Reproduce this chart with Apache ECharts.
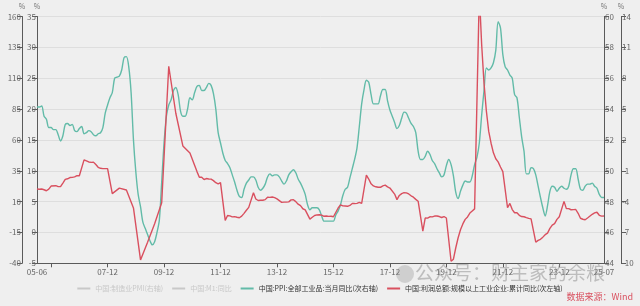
<!DOCTYPE html>
<html><head><meta charset="utf-8">
<script src="https://cdn.jsdelivr.net/npm/echarts@6/dist/echarts.min.js"></script>
<style>html,body{margin:0;padding:0;background:#efefef}#c{width:640px;height:306px}</style>
</head><body><div id="c"></div>
<script>
// months 2005-06 .. 2025-07
var startYear = 2005, startMonth = 6, nMonths = 242;
var categories = [];
for (var i = 0; i < nMonths; i++) {
  var m = startMonth - 1 + i, y = startYear + Math.floor(m / 12), mm = m % 12 + 1;
  categories.push(String(y).slice(2) + '-' + (mm < 10 ? '0' : '') + mm);
}
// 中国:PPI:全部工业品:当月同比 (%)
var ppi = [
 5.2,5.2,5.3,4.3,4.0,3.2,3.2,
 3.0,3.0,2.5,1.9,2.4,3.5,3.6,3.4,3.5,2.9,2.8,3.1,
 3.3,2.6,2.7,2.9,2.8,2.5,2.4,2.6,2.7,3.2,4.6,5.4,
 6.1,6.6,8.0,8.1,8.2,8.8,10.0,10.1,9.1,6.6,2.0,-1.1,
 -3.3,-4.5,-6.0,-6.6,-7.2,-7.8,-8.2,-7.9,-7.0,-5.8,-2.1,1.7,
 4.3,5.4,5.9,6.8,7.1,6.4,4.8,4.3,4.3,5.0,6.1,5.9,
 6.6,7.2,7.3,6.8,6.8,7.1,7.5,7.3,6.5,5.0,2.7,1.7,
 0.7,0.0,-0.3,-0.7,-1.4,-2.1,-2.9,-3.5,-3.6,-2.8,-2.2,-1.9,
 -1.6,-1.6,-1.9,-2.6,-2.9,-2.7,-2.3,-1.6,-1.3,-1.5,-1.4,-1.4,
 -1.6,-2.0,-2.3,-2.0,-1.4,-1.1,-0.9,-1.2,-1.8,-2.2,-2.7,-3.3,
 -4.3,-4.8,-4.6,-4.6,-4.6,-4.8,-5.4,-5.9,-5.9,-5.9,-5.9,-5.9,
 -5.3,-4.9,-4.3,-3.4,-2.8,-2.6,-1.7,-0.8,0.1,1.2,3.3,5.5,
 6.9,7.8,7.6,6.4,5.5,5.5,5.5,6.3,6.9,6.9,5.8,4.9,
 4.3,3.7,3.1,3.4,4.1,4.7,4.6,4.1,3.6,3.3,2.7,0.9,
 0.1,0.1,0.4,0.9,0.6,0.0,-0.3,-0.8,-1.2,-1.6,-1.4,-0.5,
 0.1,-0.4,-1.5,-3.1,-3.7,-3.0,-2.4,-2.0,-2.1,-2.1,-1.5,-0.4,
 0.3,1.7,4.4,6.8,9.0,8.8,9.0,9.5,10.7,13.5,12.9,10.3,
 9.1,8.8,8.3,8.0,6.4,6.1,4.2,2.3,0.9,-1.3,-1.3,-0.7,
 -0.8,-1.4,-2.5,-3.6,-4.6,-5.4,-4.4,-3.0,-2.5,-2.6,-3.0,-2.7,
 -2.5,-2.7,-2.8,-2.5,-1.4,-0.8,-0.8,-1.8,-2.8,-2.9,-2.5,-2.3,
 -2.3,-2.2,-2.5,-2.7,-3.3,-3.6,-3.6
];
// 中国:利润总额:规模以上工业企业:累计同比 (%)
var profit = [
 20.2,20.0,20.2,19.6,18.8,20.1,22.6,
 null,22.9,22.1,22.1,25.0,28.0,28.5,29.5,29.6,30.0,31.0,31.0,
 null,43.8,43.0,42.1,41.8,42.0,40.0,37.8,37.0,36.7,36.7,36.7,
 null,16.5,null,null,20.9,null,null,19.4,null,null,4.9,null,
 null,-37.3,null,null,-22.9,null,null,-8.0,null,null,9.0,null,
 null,119.7,null,null,81.6,null,null,55.1,null,null,49.4,null,
 null,34.3,29.7,29.7,27.9,28.7,28.3,28.2,27.0,25.3,24.4,25.4,
 null,-5.2,-1.3,-1.6,-2.4,-2.2,-2.7,-3.1,-1.8,0.5,3.0,5.3,
 null,17.2,12.1,10.9,11.1,11.1,11.6,13.5,13.4,13.7,13.2,12.2,
 null,9.4,9.6,9.6,9.8,11.4,11.5,10.0,7.9,6.7,4.2,3.3,
 null,-4.2,-2.7,-1.3,-0.8,-0.7,-1.0,-1.9,-1.7,-2.0,-1.9,-2.3,
 null,4.8,7.4,6.5,6.4,6.2,6.9,8.4,8.4,8.6,9.4,8.5,
 null,31.5,28.3,24.4,22.7,22.0,21.6,21.6,22.8,23.3,21.9,21.0,
 null,16.1,11.6,15.0,16.5,17.2,17.1,16.2,14.7,13.6,11.8,10.3,
 null,-14.0,-3.3,-3.4,-2.3,-2.4,-1.7,-1.7,-2.1,-2.9,-2.1,-3.3,
 null,-38.3,-36.7,-27.4,-19.3,-12.8,-8.1,-4.4,-2.4,0.7,2.4,4.1,
 null,178.9,137.3,106.0,83.4,66.9,57.3,49.5,44.7,42.2,38.0,34.3,
 null,5.0,8.5,3.5,1.0,1.0,-1.1,-2.1,-2.3,-3.0,-3.6,-4.0,
 null,-22.9,-21.4,-20.6,-18.8,-16.8,-15.5,-11.7,-9.0,-7.8,-4.4,-2.3,
 null,10.2,4.3,4.3,3.4,3.5,3.6,0.5,-3.5,-4.3,-4.7,-3.3,
 null,-0.3,0.8,1.4,-1.1,-1.8,-1.7
];
var seriesNames = ['中国:制造业PMI(右轴)', '中国:M1:同比', '中国:PPI:全部工业品:当月同比(次右轴)', '中国:利润总额:规模以上工业企业:累计同比(次左轴)'];
var axisOuterLeft = {min: -40, max: 160, interval: 25};
var axisInnerLeft = {min: -5, max: 35, interval: 5};
var axisInnerRight = {min: 44, max: 60, interval: 2};
var axisOuterRight = {min: -10, max: 14, interval: 3};

var FONT = '"Noto Sans CJK SC", "Noto Sans", sans-serif';
var axisColor = '#5a5a5a', labelColor = '#666';
function yAx(cfg, pos, offset, split) {
  return {
    type: 'value', position: pos, offset: offset, min: cfg.min, max: cfg.max, interval: cfg.interval,
    name: '%', nameLocation: 'end', nameGap: 7,
    nameTextStyle: {color: '#777', fontSize: 7, fontFamily: FONT, align: 'center', padding: [0, 0, 0, 0]},
    axisLine: {show: true, onZero: false, lineStyle: {color: axisColor, width: 1}},
    axisTick: {show: true, length: 5, lineStyle: {color: axisColor}},
    axisLabel: {color: labelColor, fontSize: 8, fontFamily: FONT, margin: 1},
    splitLine: {show: split, lineStyle: {color: '#dedede', width: 1}}
  };
}
var chart = echarts.init(document.getElementById('c'), null, {renderer: 'canvas'});
chart.setOption({
  backgroundColor: '#efefef',
  animation: false,
  grid: {left: 37, right: 36, top: 16.5, bottom: 42.7, containLabel: false},
  legend: {
    bottom: 9, left: 'center', itemWidth: 13, itemHeight: 2, itemGap: 9,
    icon: 'rect',
    textStyle: {fontSize: 7, color: '#333', fontFamily: FONT},
    inactiveColor: '#c8c8c8',
    data: seriesNames,
    selected: {'中国:制造业PMI(右轴)': false, '中国:M1:同比': false}
  },
  xAxis: {
    type: 'category', data: categories, boundaryGap: false,
    axisLine: {onZero: false, lineStyle: {color: axisColor}},
    axisTick: {length: 4, lineStyle: {color: axisColor}, interval: function (i) { return (i - 6) % 24 === 0; }},
    axisLabel: {color: labelColor, fontSize: 8, fontFamily: FONT, margin: 5, showMaxLabel: true,
      interval: function (i) { return i === 0 || (i >= 30 && (i - 6) % 24 === 0) || i === nMonths - 1; }},
    splitLine: {show: false}
  },
  yAxis: [
    yAx(axisOuterLeft, 'left', 15, true),
    yAx(axisInnerLeft, 'left', 0, false),
    yAx(axisInnerRight, 'right', 0, false),
    yAx(axisOuterRight, 'right', 17, false)
  ],
  series: [
    {name: seriesNames[0], type: 'line', yAxisIndex: 2, data: [], showSymbol: false, itemStyle: {color: '#8a8a8a'}},
    {name: seriesNames[1], type: 'line', yAxisIndex: 1, data: [], showSymbol: false, itemStyle: {color: '#b0b0b0'}},
    {name: seriesNames[2], type: 'line', yAxisIndex: 3, data: ppi, showSymbol: false, smooth: 0.3,
      lineStyle: {color: '#62bba8', width: 1.4}, itemStyle: {color: '#62bba8'}},
    {name: seriesNames[3], type: 'line', yAxisIndex: 0, data: profit, showSymbol: false, connectNulls: true, clip: true,
      lineStyle: {color: '#d9505f', width: 1.4}, itemStyle: {color: '#d9505f'}}
  ],
  graphic: [
    {type: 'circle', left: 396, top: 265, shape: {r: 9}, style: {fill: 'rgba(150,150,150,0.35)'}, z: 100},
    {type: 'text', left: 415, top: 263, z: 100,
      style: {text: '公众号：财主家的余粮', fill: 'rgba(140,140,140,0.5)', font: '19px "Noto Sans CJK SC"'}},
    {type: 'text', right: 7, top: 292, z: 100,
      style: {text: '数据来源：Wind', fill: '#d9505f', font: '9px "Noto Sans CJK SC"'}}
  ]
});
</script></body></html>
